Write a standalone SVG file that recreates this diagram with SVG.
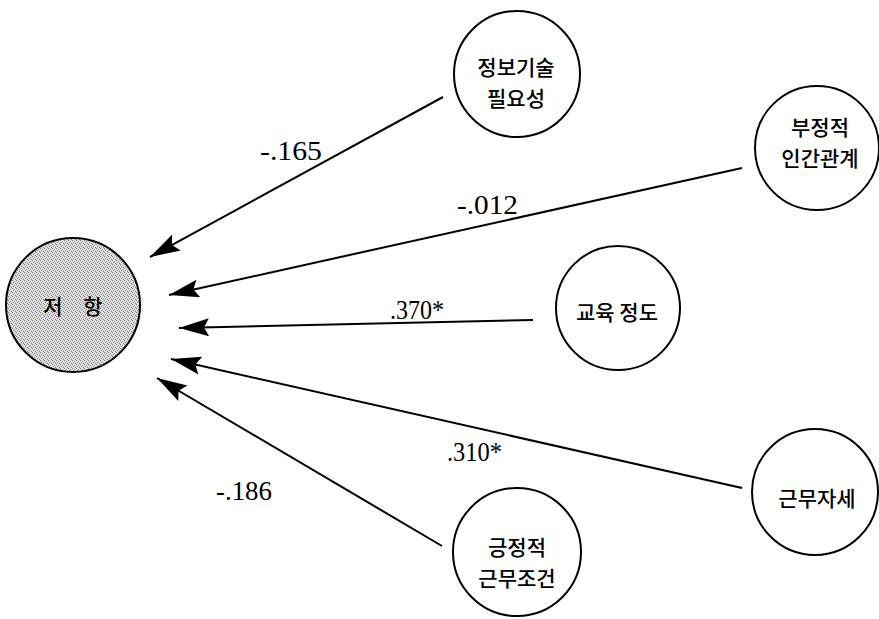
<svg xmlns="http://www.w3.org/2000/svg" width="879" height="619" viewBox="0 0 879 619">
<style>
.node{fill:#fff;stroke:#000;stroke-width:2}
.kt{font-family:"Noto Sans CJK KR","Noto Sans",sans-serif;font-size:21px;font-weight:500;text-anchor:middle;fill:#000}
.num{font-family:"Liberation Serif",serif;font-size:27px;fill:#000}
.conn{fill:none;stroke:#000;stroke-width:2}
</style>
<defs>
<pattern id="stip" width="4" height="4" patternUnits="userSpaceOnUse">
<rect width="4" height="4" fill="#e0e0e0"/>
<rect x="0" y="0" width="1" height="1" fill="#777"/>
<rect x="2" y="1" width="1" height="1" fill="#999"/>
<rect x="1" y="2" width="1" height="1" fill="#888"/>
<rect x="3" y="3" width="1" height="1" fill="#777"/>
</pattern>
<marker id="ah" markerUnits="userSpaceOnUse" markerWidth="32" markerHeight="20" refX="30" refY="9" orient="auto">
<path d="M0,0 L30,9 L0,18 L5,9 z" fill="#000"/>
</marker>
</defs>
<g id="connectors">
<path class="conn" d="M443,97 L150,257" marker-end="url(#ah)"/>
<path class="conn" d="M742,168 L169,295" marker-end="url(#ah)"/>
<path class="conn" d="M533,320 L179,328" marker-end="url(#ah)"/>
<path class="conn" d="M742,488 L171,359" marker-end="url(#ah)"/>
<path class="conn" d="M442,546 L157,378" marker-end="url(#ah)"/>
<text class="num" x="260" y="160" textLength="62" lengthAdjust="spacingAndGlyphs">-.165</text>
<text class="num" x="457" y="214" textLength="61" lengthAdjust="spacingAndGlyphs">-.012</text>
<text class="num" x="390" y="319" textLength="54" lengthAdjust="spacingAndGlyphs">.370*</text>
<text class="num" x="447" y="461" textLength="55" lengthAdjust="spacingAndGlyphs">.310*</text>
<text class="num" x="216" y="500" textLength="56" lengthAdjust="spacingAndGlyphs">-.186</text>
</g>
<g id="node-resist">
<circle cx="73" cy="305" r="67" fill="url(#stip)" stroke="#000" stroke-width="2"/>
<text class="kt" x="73" y="314" font-size="24" font-weight="700" word-spacing="16">저 항</text>
</g>
<g id="node-it">
<circle class="node" cx="517" cy="74" r="63"/>
<text class="kt" x="516" y="75">정보기술</text>
<text class="kt" x="516" y="106">필요성</text>
</g>
<g id="node-negative">
<circle class="node" cx="817" cy="148" r="62"/>
<text class="kt" x="820" y="135">부정적</text>
<text class="kt" x="820" y="166">인간관계</text>
</g>
<g id="node-edu">
<circle class="node" cx="618" cy="308" r="62"/>
<text class="kt" x="617" y="320">교육 정도</text>
</g>
<g id="node-attitude">
<circle class="node" cx="815" cy="492" r="63"/>
<text class="kt" x="817" y="506">근무자세</text>
</g>
<g id="node-positive">
<circle class="node" cx="517" cy="552" r="64"/>
<text class="kt" x="517" y="555">긍정적</text>
<text class="kt" x="517" y="586">근무조건</text>
</g>
</svg>
